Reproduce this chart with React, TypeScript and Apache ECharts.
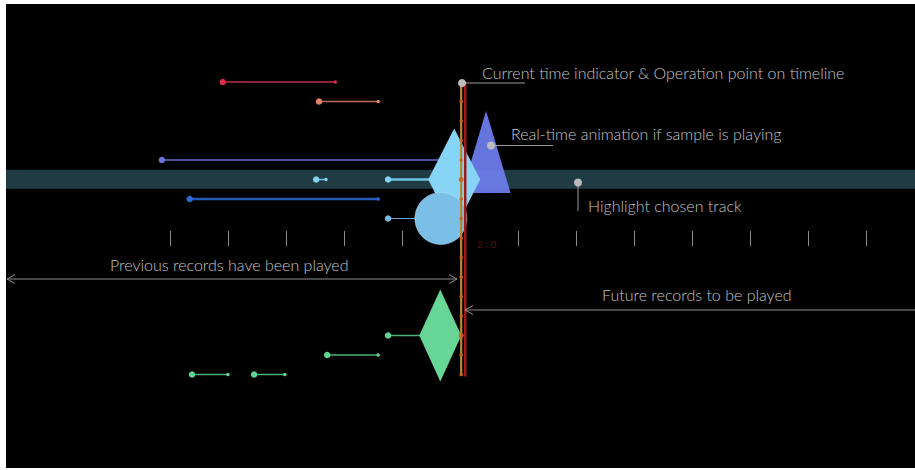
import React, { useEffect, useRef } from "react";
import * as echarts from "echarts";

// ---- data ----
const tickTimes = [0, 1, 2, 3, 4, 5, 6, 7, 8, 9, 10, 11, 12];
const tracks = [0, 1, 2, 3, 4, 5, 6, 7, 8, 9, 10, 11, 12, 13, 14, 15];
const currentTime = 5.02;
const cursorTime = 5.09;
const highlightTrack = 5;

const recordTrack = [0, 1, 4, 5, 5, 6, 7, 13, 14, 15, 15];
const recordStart = [0.91, 2.57, -0.14, 2.52, 3.76, 0.34, 3.76, 3.76, 2.71, 0.38, 1.45];
// null = still playing (runs up to the current time)
const recordEnd = [2.85, 3.59, null, 2.69, null, 3.59, null, null, 3.59, 1.0, 1.98];

const animTrack = [4, 5, 7, 13];
const animTime = [5.45, 4.9, 4.67, 4.66];
const animShape = ["triangle", "diamond", "circle", "diamond"];

const annotations = [
  "Current time indicator & Operation point on timeline",
  "Real-time animation if sample is playing",
  "Highlight chosen track",
  "Previous records have been played",
  "Future records to be played",
];
const timeLabel = "2 : 0";

// ---- styles ----
const trackDot: Record<number, string> = {
  0: "#d92f48", 1: "#e88068", 4: "#6b76dc", 5: "#80d2f0", 6: "#2c68d6", 7: "#7cb9e2",
  13: "#5fd48f", 14: "#5fd48f", 15: "#5fd48f",
};
const trackLine: Record<number, string> = {
  0: "#8c2233", 1: "#b96b5c", 4: "#4b4f98", 5: "#6ec4e6", 6: "#2658b4", 7: "#6aa3cc",
  13: "#4caf79", 14: "#4caf79", 15: "#4caf79",
};
const recordWidth = [2, 1.5, 2, 1.5, 2.5, 2.5, 1, 1.5, 1.5, 1.5, 1.5];
const animStyle = [
  { size: [49, 82], offset: [0, -8], color: "#6f7ff0", opacity: 0.92, z: 4 },
  { size: [52, 102], offset: [0, 0], color: "#86d5f7", opacity: 1, z: 5 },
  { size: [52, 52], offset: [0, 0], color: "#7cbfe6", opacity: 1, z: 6 },
  { size: [42, 92], offset: [0, 0], color: "#66d596", opacity: 1, z: 5 },
];

const FONT = "Lato";
const FSIZE = 16;
const TXT = "#c4c4c4";
const LEAD = "#9a9a9a";
const ARROW = "#8c8c8c";

export default function App() {
  const ref = useRef<HTMLDivElement>(null);
  useEffect(() => {
    if (!ref.current) return;
    const chart = echarts.init(ref.current, null, { renderer: "svg" });
    const pxPerUnit = 58;
    const tick0 = 170;
    const xMin = -(tick0 - 6) / pxPerUnit;
    const xMax = xMin + 909 / pxPerUnit;
    const rowPx = 19.5;
    const row0Px = 82;
    const yMin = -(row0Px - 4) / rowPx;
    const yMax = yMin + 464 / rowPx;

    const series: any[] = [];
    // highlight band
    series.push({
      type: "scatter",
      xAxisIndex: 0,
      yAxisIndex: 0,
      data: [[xMin, yMin]],
      symbolSize: 0,
      silent: true,
      z: 1,
      markArea: {
        silent: true,
        itemStyle: { color: "#213b45" },
        data: [[{ yAxis: highlightTrack - 0.5 }, { yAxis: highlightTrack + 0.48 }]],
      },
    });
    // records
    recordTrack.forEach((tr, i) => {
      const ongoing = recordEnd[i] === null;
      const end = ongoing ? currentTime : (recordEnd[i] as number);
      series.push({
        type: "line",
        xAxisIndex: 0,
        yAxisIndex: 0,
        data: [[recordStart[i], tr], [end, tr]],
        symbol: "circle",
        symbolSize: (_v: any, p: any) => (p.dataIndex === 0 ? 6.5 : ongoing ? 0 : 3.5),
        showAllSymbol: true,
        lineStyle: { color: trackLine[tr], width: recordWidth[i] },
        itemStyle: { color: trackDot[tr] },
        silent: true,
        z: 3,
      });
    });
    // animation shapes
    animTrack.forEach((tr, i) => {
      const s = animStyle[i];
      series.push({
        type: "scatter",
        xAxisIndex: 0,
        yAxisIndex: 0,
        data: [[animTime[i], tr]],
        symbol: animShape[i],
        symbolSize: s.size,
        symbolOffset: s.offset,
        itemStyle: {
          color: s.color,
          opacity: s.opacity,
          borderColor: animShape[i] === "circle" ? "rgba(180,225,250,0.5)" : undefined,
          borderWidth: animShape[i] === "circle" ? 1 : 0,
        },
        silent: true,
        z: s.z,
      });
    });
    // current time indicator (orange) with track points
    series.push({
      type: "line",
      xAxisIndex: 0,
      yAxisIndex: 0,
      data: tracks.map((t) => [currentTime, t]),
      symbol: "circle",
      symbolSize: (_v: any, p: any) => (p.dataIndex === 5 || p.dataIndex === 13 ? 5 : 3.5),
      showAllSymbol: true,
      lineStyle: { color: "#b4882e", width: 2.2 },
      itemStyle: { color: "#c4652a" },
      silent: true,
      z: 10,
    });
    // operation cursor (red)
    series.push({
      type: "line",
      xAxisIndex: 0,
      yAxisIndex: 0,
      data: [[cursorTime, tracks[0]], [cursorTime, tracks[tracks.length - 1] + 0.1]],
      symbol: "none",
      lineStyle: { color: "#9e1b1b", width: 2.5 },
      silent: true,
      z: 10,
    });
    // timeline ticks grid
    series.push({
      type: "scatter",
      xAxisIndex: 1,
      yAxisIndex: 1,
      data: [],
      silent: true,
    });

    const chevron = (tx: number, ty: number, dir: number) => ({
      type: "polyline",
      shape: { points: [[tx + dir * 8, ty - 4.5], [tx, ty], [tx + dir * 8, ty + 4.5]] },
      style: { stroke: ARROW, lineWidth: 1, fill: null },
      z: 100,
    });
    const txt = (text: string, x: number, y: number) => ({
      type: "text",
      x,
      y,
      style: {
        text,
        fill: TXT,
        font: `300 ${FSIZE}px ${FONT}`,
        verticalAlign: "middle",
        align: "left",
      },
      z: 100,
    });
    const dot = (x: number, y: number) => ({
      type: "circle",
      shape: { cx: x, cy: y, r: 4 },
      style: { fill: "#bdbdbd" },
      z: 101,
    });
    const ln = (x1: number, y1: number, x2: number, y2: number, c: string) => ({
      type: "line",
      shape: { x1, y1, x2, y2 },
      style: { stroke: c, lineWidth: 1 },
      z: 100,
    });

    chart.setOption({
      animation: false,
      backgroundColor: "transparent",
      textStyle: { fontFamily: FONT },
      grid: [
        { left: 6, top: 4, width: 909, height: 464 },
        { left: tick0, top: 231, width: pxPerUnit * (tickTimes.length - 1), height: 15 },
      ],
      xAxis: [
        { type: "value", gridIndex: 0, min: xMin, max: xMax, show: false },
        {
          type: "value",
          gridIndex: 1,
          min: tickTimes[0],
          max: tickTimes[tickTimes.length - 1],
          interval: 1,
          position: "bottom",
          axisLine: { show: false },
          axisLabel: { show: false },
          splitLine: { show: false },
          axisTick: { show: true, inside: true, length: 15, lineStyle: { color: "#8a8a8a", width: 1 } },
        },
      ],
      yAxis: [
        { type: "value", gridIndex: 0, min: yMin, max: yMax, inverse: true, show: false },
        { type: "value", gridIndex: 1, min: 0, max: 1, show: false },
      ],
      series,
      graphic: [
        // annotation 1
        ln(462, 83, 525, 83, LEAD),
        dot(462, 83),
        txt(annotations[0], 482, 72),
        // annotation 2
        ln(491, 145.5, 553, 145.5, LEAD),
        dot(491, 145.5),
        txt(annotations[1], 511, 133),
        // annotation 3
        ln(578, 182.5, 578, 211, LEAD),
        dot(578, 182.5),
        txt(annotations[2], 588, 205),
        // previous records
        txt(annotations[3], 110, 264),
        ln(7, 279, 457, 279, ARROW),
        chevron(7, 279, 1),
        chevron(457, 279, -1),
        // future records
        txt(annotations[4], 602, 294),
        ln(465, 310, 915, 310, ARROW),
        chevron(465, 310, 1),
        {
          type: "text",
          x: 477,
          y: 244,
          style: { text: timeLabel, fill: "#5a1010", font: `10px ${FONT}`, verticalAlign: "middle" },
          z: 20,
        },
      ],
    });
    return () => chart.dispose();
  }, []);

  return (
    <div style={{ position: "absolute", left: 0, top: 0, width: 915, height: 470, background: "#fff" }}>
      <div style={{ position: "absolute", left: 6, top: 4, width: 909, height: 464, background: "#000" }} />
      <div ref={ref} style={{ position: "absolute", left: 0, top: 0, width: 915, height: 470 }} />
    </div>
  );
}
